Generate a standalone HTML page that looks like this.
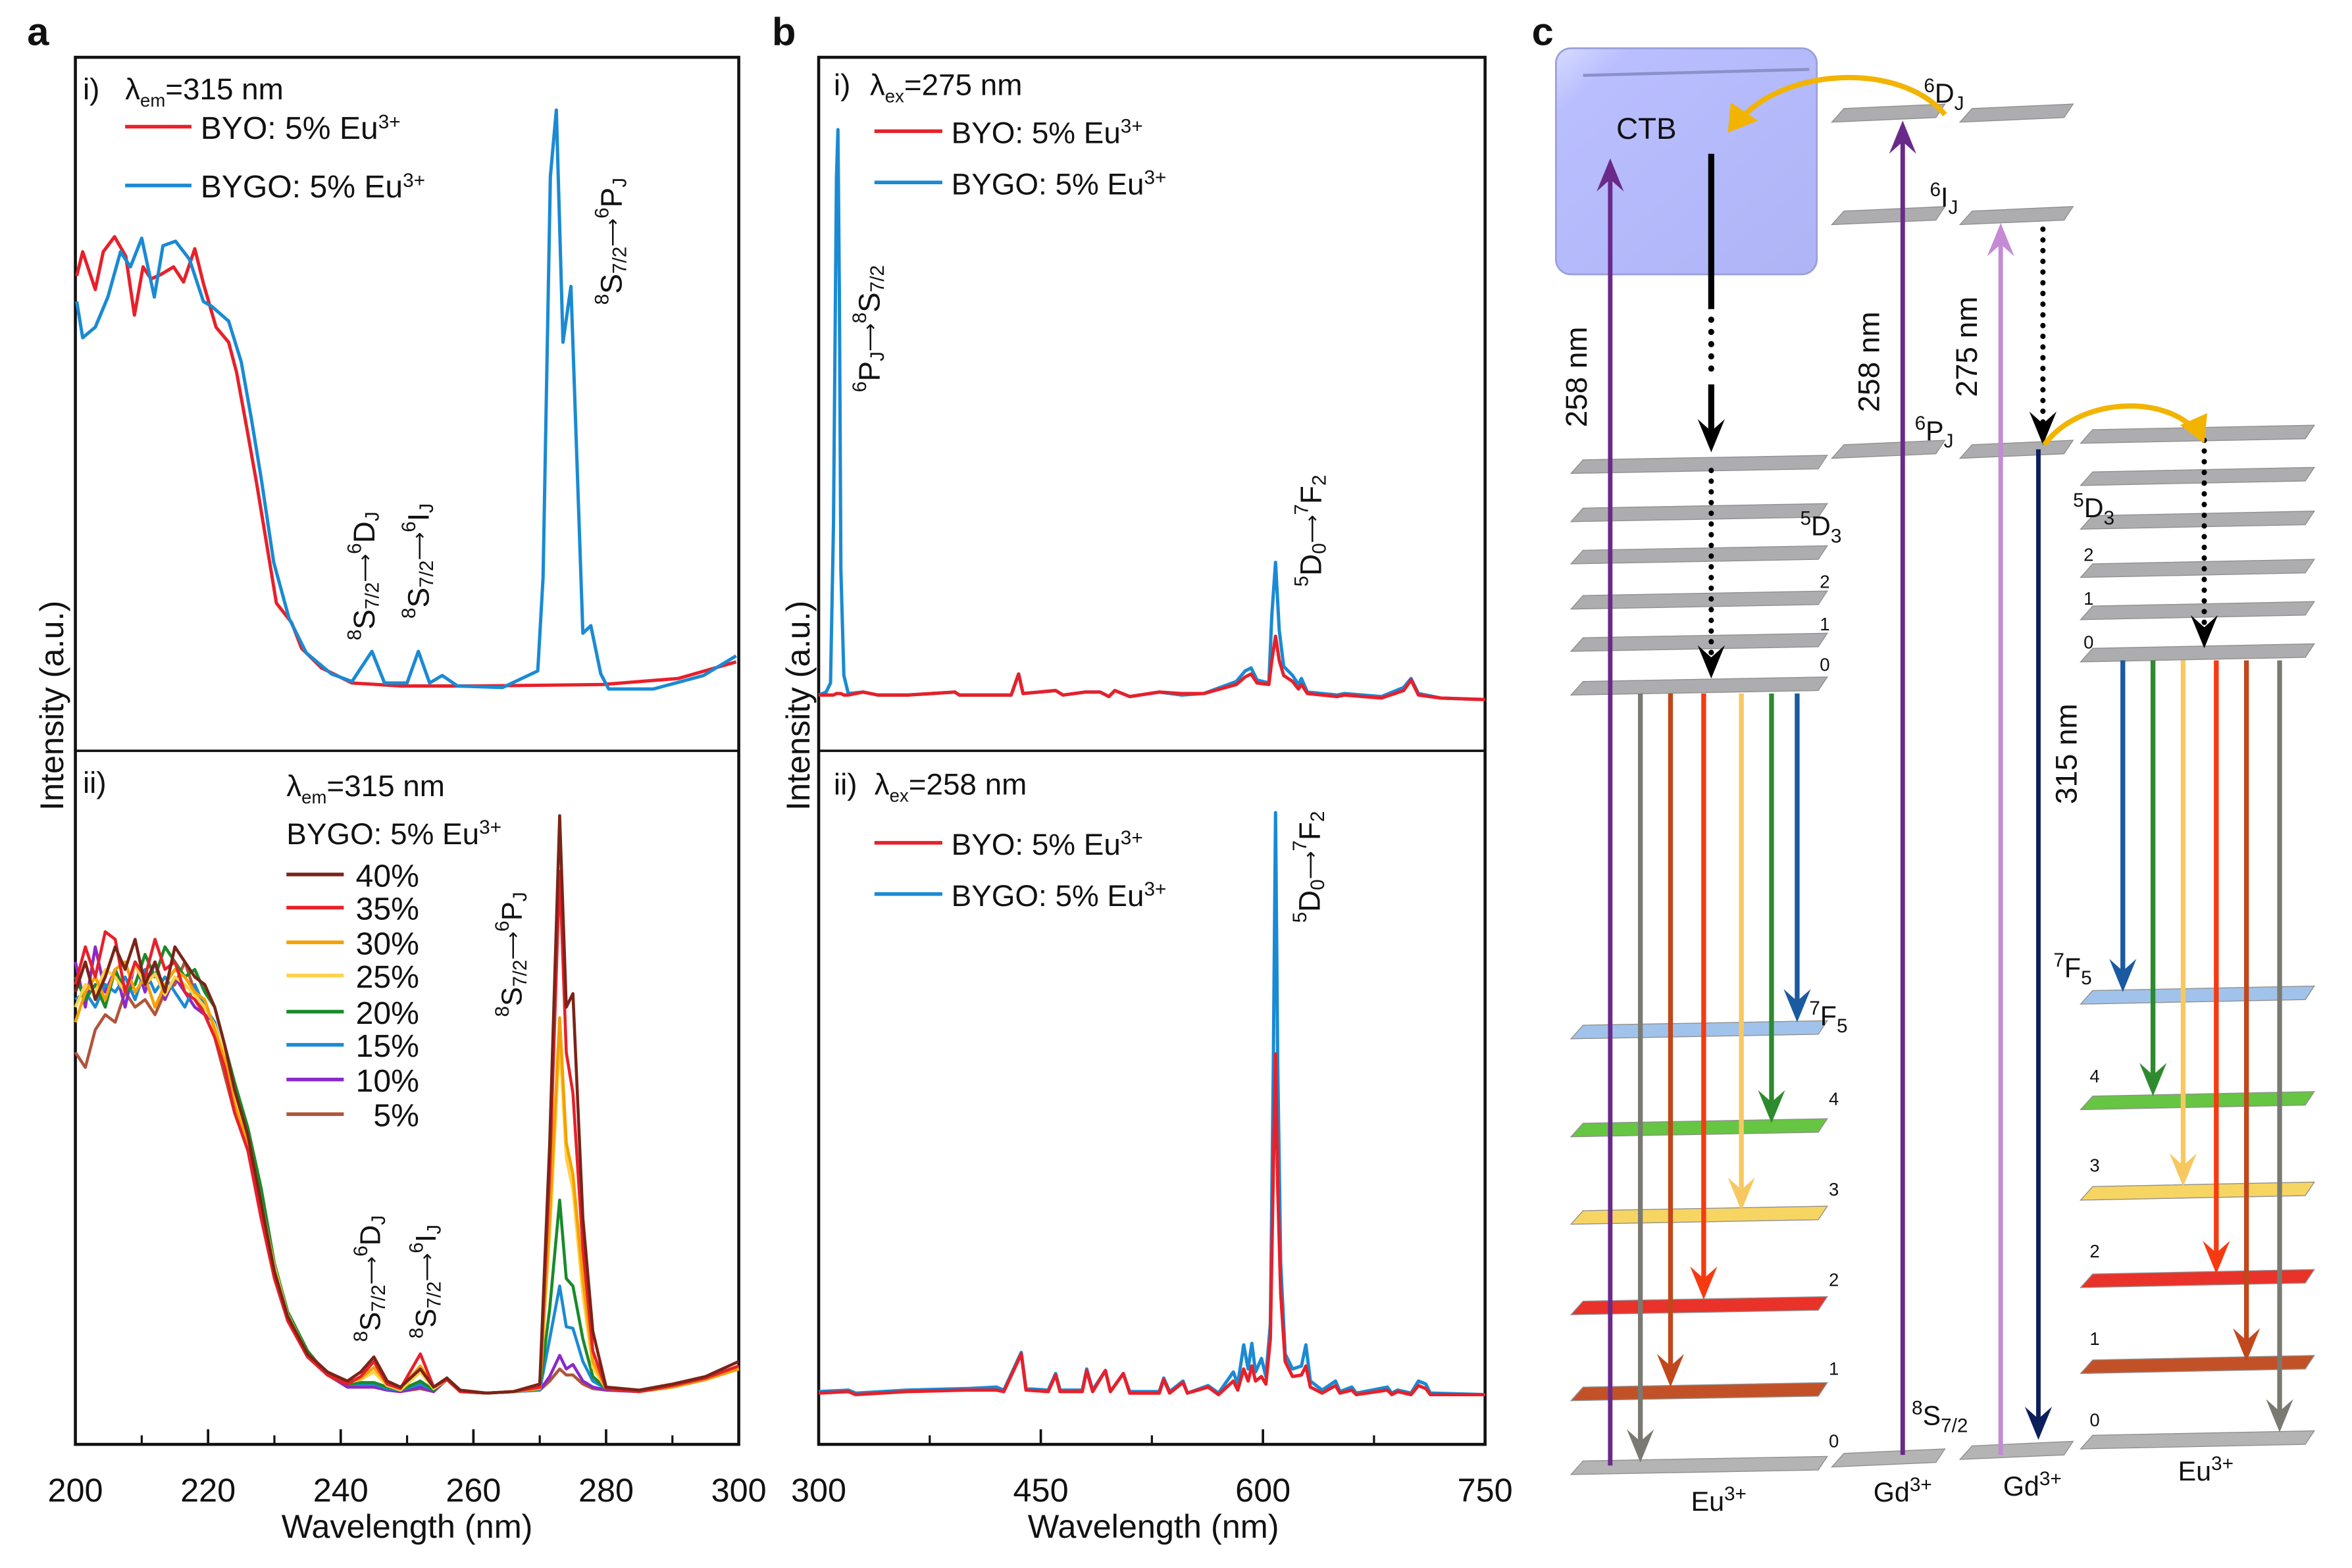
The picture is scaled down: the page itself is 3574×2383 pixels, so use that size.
<!DOCTYPE html>
<html><head><meta charset="utf-8"><style>
html,body{margin:0;padding:0;background:#fff;}
svg{display:block;font-family:"Liberation Sans",Arial,sans-serif;}
</style></head><body>
<svg id="fig" width="3574" height="2383" viewBox="0 0 1560 1040" preserveAspectRatio="none" xmlns="http://www.w3.org/2000/svg">
<g id="root"></g>
</svg>
<script>
// ---------- Panel a data ----------
const aiRedWl = [200.2,201.1,203,204.2,205.9,207.6,208.9,210.2,211.4,212.9,214.8,216.3,218,219.3,221.2,223.1,224.3,225.8,227.3,228.8,230.3,232.6,234.1,237.1,241.7,249.2,260.6,279.5,290.9,299.6];
const aiRedI  = [315,331,306,331,341,328,289,321,313,316,321,311,333,310,281,271,251,215,178,138,98,85,68,55,45,43,43,44,48,59];
const aiBlueWl = [200.2,201.1,203,204.9,206.8,208.3,210,211.9,213.2,215.1,217.2,219.3,220.5,223.1,225,226.5,228,229.9,232.2,234.8,238.6,241.7,244.7,246.6,250,251.7,253.4,255.3,257.6,264.4,269.7,270.5,271.6,272.5,273.5,274.7,276.5,277.7,279.2,280.4,287.1,294.7,299.6];
const aiBlueI  = [298,274,281,301,331,321,340,301,335,338,326,298,295,285,258,221,181,125,88,65,51,46,66,45,45,66,45,50,43,42,53,115,381,425,271,308,78,83,51,41,41,50,63];

const aiiWl = [200,201.5,203,204.5,206,207.5,209,210.5,212,213.5,215,216.5,218,219.5,221,222.5,224,226,228,230,232,235,238,241,243,245,247,249,252,254,256,258,262,266,270,271.5,273,274,275,276.5,278,280,285,290,295,300];
const aii40 = [300,320,295,310,330,315,335,305,320,300, 330,320,310,305,290,265,235,205,160,115, 85,60,48,42,48,58,42,38,50,38, 44,36,34,35,40,200,417,290,299,150, 75,38,36,40,45,55];
const aii35 = [305,330,310,340,335,300,320,310,335,315, 320,300,295,285,270,250,220,195,150,110, 82,58,46,40,45,55,40,37,60,38, 43,35,34,35,38,180,380,260,233,130, 62,37,35,39,44,52];
const aii30 = [280,300,310,295,315,320,300,310,290,305, 315,310,300,295,275,255,225,200,158,115, 84,60,48,41,44,51,40,37,52,38, 43,35,34,35,37,150,283,200,179,110, 55,37,35,38,43,50];
const aii25 = [290,305,300,315,310,300,318,305,312,298, 310,305,298,290,278,258,230,205,160,118, 86,60,48,41,43,48,39,36,48,37, 43,35,34,35,37,140,269,190,169,100, 51,37,35,38,43,50];
const aii20 = [310,295,305,290,315,300,305,325,310,330, 320,310,315,300,290,265,240,210,170,120, 88,62,46,40,41,41,38,36,42,36, 44,35,34,35,37,90,162,110,105,70, 45,37,35,38,43,51];
const aii15 = [295,300,290,305,300,310,295,315,300,310, 300,290,305,290,280,255,230,200,160,115, 84,60,47,40,40,40,37,36,40,36, 44,35,34,35,36,70,105,78,77,55, 42,37,35,38,43,51];
const aii10 = [320,290,330,300,315,290,320,300,320,295, 310,300,290,285,280,255,225,200,165,118, 86,61,47,38,38,38,36,35,38,35, 44,35,34,35,36,45,59,50,53,42, 38,36,35,38,43,52];
const aii05 = [260,250,275,285,280,300,290,295,285,300, 305,320,300,285,270,245,220,195,155,112, 82,58,46,38,38,38,36,35,37,35, 43,35,34,35,36,42,50,46,46,40, 37,36,35,38,43,50];
const aiiLabels = ["40%","35%","30%","25%","20%","15%","10%"," 5%"];
const aiiColors = ["#7a2418","#e8202a","#f5a000","#ffd24a","#1a8a2a","#1a8ad4","#8a2ac8","#b0553a"];
const aTicks = [200,220,240,260,280,300];
const aMinor = [210,230,250,270,290];

// ---------- Panel b data ----------
const biWl   = [300,305,308,310,312,313,314,315,317,320,330,340,360,392,395,430,435,438,460,465,480,490,496,500,510,530,545,560,582,588,592,596,604,606,608.5,611,614,620,624,626,630,650,655,680,695,700,705,720,750];
const biBlue = [37,39,45,150,380,412,300,120,50,38,39,37,37,39,37,37,51,38,40,37,39,39,36,40,36,39,37,38,46,53,55,47,45,90,125,80,56,50,44,48,39,37,38,36,42,48,38,35,34];
const biRed  = [37,37,37,37,38,38,38,38,37,37,39,37,37,39,37,37,51,38,40,37,39,39,36,40,36,39,38,38,44,49,51,45,44,60,76,60,50,46,41,44,38,36,37,35,40,47,37,35,34];
const biiWl   = [300,320,325,360,400,420,425,436.8,440,455,460,463,478,481,485,493.6,497,505.7,510,530,533,537,546,549,563,570,580,583,587,590,592.5,595,599,602,605,607,608.5,610,612,615,620,626,629,632,640,649,652,660,663,684,687,691,700,705,710,713,750];
const biiBlue = [35,36,34,36,37,38,36,61,37,36,47,36,36,50,36,49,35,47,35,35,44,35,42,34,39,34,48,40,66,50,67,48,57,45,80,250,419,250,120,60,50,52,66,42,36,42,35,38,34,38,34,36,34,42,40,34,33];
const biiRed  = [34,35,33,35,36,36,35,60,36,35,46,35,35,49,35,49,35,47,34,34,43,34,41,34,38,33,42,36,50,42,52,42,45,40,70,180,259,170,100,55,45,46,52,38,34,39,34,36,33,36,33,35,33,39,37,33,33];
const bTicks = [300,450,600,750];
const bMinor = [375,525,675];

// ---------- scales ----------
const Xa = w => 50 + (w-200)*4.4;
const Xb = w => 543 + (w-300)*442/450;
const Ytop = I => 498 - I;
const Ybot = I => 958 - I;

const NS = "http://www.w3.org/2000/svg";
const root = document.getElementById('root');
function mk(tag, attrs, parent){
  const e = document.createElementNS(NS, tag);
  for (const k in attrs) e.setAttribute(k, attrs[k]);
  (parent||root).appendChild(e);
  return e;
}
function line(xs, ys, X, Y, color, name, w){
  let d = "";
  for (let i=0;i<xs.length;i++) d += (i?"L":"M") + X(xs[i]).toFixed(2) + "," + Y(ys[i]).toFixed(2);
  const p = mk('path', {d:d, fill:'none', stroke:color, 'stroke-width':w||2.2, 'stroke-linejoin':'round'});
  
  
  return p;
}
function txt(x,y,html,size,name,extra){
  const t = mk('text', Object.assign({x:x,y:y,'font-size':size,fill:'#111'}, extra||{}));
  t.innerHTML = html;
  
  
  return t;
}
function frame(x1,x2,name){
  const r = mk('rect',{x:x1,y:38,width:x2-x1,height:920,fill:'none',stroke:'#111','stroke-width':2});
  
  
  const m = mk('line',{x1:x1,x2:x2,y1:498,y2:498,stroke:'#111','stroke-width':1.6});
  
  
}
function ticks(major, minor, X, name){
  major.forEach(v=>{
    const l = mk('line',{x1:X(v),x2:X(v),y1:958,y2:948,stroke:'#111','stroke-width':1.6});
    
    
    txt(X(v), 996, String(v), 22, name+'-tick-label', {'text-anchor':'middle'});
  });
  minor.forEach(v=>{
    const l = mk('line',{x1:X(v),x2:X(v),y1:958,y2:952,stroke:'#111','stroke-width':1.4});
    
    
  });
}
function legLine(x1,x2,y,color,name){
  const l = mk('line',{x1:x1,x2:x2,y1:y,y2:y,stroke:color,'stroke-width':2.4});
  
  
}
const SUP = (s)=>`<tspan baseline-shift="7" font-size="13">${s}</tspan>`;
const SUB = (s)=>`<tspan baseline-shift="-5" font-size="13">${s}</tspan>`;
function rot(cx,cy,html,size,name){
  txt(cx,cy,html,size,name,{'text-anchor':'middle',transform:`rotate(-90 ${cx} ${cy})`,'dominant-baseline':'middle'});
}
const AR = `<tspan font-size="13">⟶</tspan>`;
const sToD = `${SUP('8')}S${SUB('7/2')}${AR}${SUP('6')}D${SUB('J')}`;
const sToI = `${SUP('8')}S${SUB('7/2')}${AR}${SUP('6')}I${SUB('J')}`;
const sToP = `${SUP('8')}S${SUB('7/2')}${AR}${SUP('6')}P${SUB('J')}`;
const pToS = `${SUP('6')}P${SUB('J')}${AR}${SUP('8')}S${SUB('7/2')}`;
const dToF = `${SUP('5')}D${SUB('0')}${AR}${SUP('7')}F${SUB('2')}`;
const eu = `Eu${SUP('3+')}`;
const lam = (s,rest)=>`λ<tspan baseline-shift="-5" font-size="12">${s}</tspan>${rest}`;

// ---------- Panel a ----------
txt(18,30,'a',26,'panel-a-label',{'font-weight':'bold'});
frame(50,490,'panel-a-frame');
ticks(aTicks,aMinor,Xa,'panel-a-x');
txt(270,1020,'Wavelength (nm)',22,'panel-a-x-title',{'text-anchor':'middle'});
txt(36,468,'Intensity (a.u.)',22,'panel-a-y-title',{'text-anchor':'middle',transform:'rotate(-90 36 468)','dominant-baseline':'middle'});
line(aiRedWl, aiRedI, Xa, Ytop, '#e8202a', 'a-i-byo-line');
line(aiBlueWl, aiBlueI, Xa, Ytop, '#1a8ad4', 'a-i-bygo-line');
txt(55,66,'i)',20,'a-i-label');
txt(83,66,lam('em','=315 nm'),20,'a-i-lambda');
legLine(83,127,84,'#e8202a','a-i-legend-byo-swatch');
txt(133,92,`BYO: 5% ${eu}`,21,'a-i-legend-byo');
legLine(83,127,123,'#1a8ad4','a-i-legend-bygo-swatch');
txt(133,131,`BYGO: 5% ${eu}`,21,'a-i-legend-bygo');
rot(243,382,sToD,20,'a-i-annotation-6dj');
rot(279,372,sToI,20,'a-i-annotation-6ij');
rot(407,160,sToP,20,'a-i-annotation-6pj');

const aiiSeries = [aii40,aii35,aii30,aii25,aii20,aii15,aii10,aii05];
for (let k=aiiSeries.length-1;k>=0;k--){
  line(aiiWl, aiiSeries[k], Xa, Ybot, aiiColors[k], 'a-ii-line-'+aiiLabels[k].trim().replace('%','pct'), 2);
}
txt(55,526,'ii)',20,'a-ii-label');
txt(190,528,lam('em','=315 nm'),20,'a-ii-lambda');
txt(190,560,`BYGO: 5% ${eu}`,20,'a-ii-title');
const legY = [580,602,625,647,671,693,716,739];
aiiLabels.forEach((lab,i)=>{
  legLine(190,228,legY[i],aiiColors[i],'a-ii-legend-swatch');
  txt(278,legY[i]+8,lab,21,'a-ii-legend-entry',{'text-anchor':'end','xml:space':'preserve'});
});
rot(247,848,sToD,19,'a-ii-annotation-6dj');
rot(284,850,sToI,19,'a-ii-annotation-6ij');
rot(341,633,sToP,19,'a-ii-annotation-6pj');

// ---------- Panel b ----------
txt(512,30,'b',26,'panel-b-label',{'font-weight':'bold'});
frame(543,985,'panel-b-frame');
ticks(bTicks,bMinor,Xb,'panel-b-x');
txt(765,1020,'Wavelength (nm)',22,'panel-b-x-title',{'text-anchor':'middle'});
txt(531,468,'Intensity (a.u.)',22,'panel-b-y-title',{'text-anchor':'middle',transform:'rotate(-90 531 468)','dominant-baseline':'middle'});
line(biWl, biBlue, Xb, Ytop, '#1a8ad4', 'b-i-bygo-line');
line(biWl, biRed, Xb, Ytop, '#e8202a', 'b-i-byo-line');
line(biiWl, biiBlue, Xb, Ybot, '#1a8ad4', 'b-ii-bygo-line');
line(biiWl, biiRed, Xb, Ybot, '#e8202a', 'b-ii-byo-line');
txt(553,63,'i)',20,'b-i-label');
txt(577,63,lam('ex','=275 nm'),20,'b-i-lambda');
legLine(580,625,87,'#e8202a','b-i-legend-byo-swatch');
txt(631,95,`BYO: 5% ${eu}`,20,'b-i-legend-byo');
legLine(580,625,121,'#1a8ad4','b-i-legend-bygo-swatch');
txt(631,129,`BYGO: 5% ${eu}`,20,'b-i-legend-bygo');
rot(578,218,pToS,20,'b-i-annotation-6pj');
rot(871,352,dToF,20,'b-i-annotation-5d0');
txt(553,527,'ii)',20,'b-ii-label');
txt(580,527,lam('ex','=258 nm'),20,'b-ii-lambda');
legLine(580,625,559,'#e8202a','b-ii-legend-byo-swatch');
txt(631,567,`BYO: 5% ${eu}`,20,'b-ii-legend-byo');
legLine(580,625,593,'#1a8ad4','b-ii-legend-bygo-swatch');
txt(631,601,`BYGO: 5% ${eu}`,20,'b-ii-legend-bygo');
rot(870,575,dToF,20,'b-ii-annotation-5d0');

// ---------- Panel c (energy-level diagram) ----------
txt(1016,30,'c',26,'panel-c-label',{'font-weight':'bold'});
const defs = mk('defs',{});
defs.innerHTML = '<linearGradient id="ctbg" x1="0" y1="0" x2="1" y2="1"><stop offset="0" stop-color="#d6dbff"/><stop offset="0.15" stop-color="#b9beff"/><stop offset="1" stop-color="#aeb4f5"/></linearGradient>';
const ctb = mk('rect',{x:1032,y:32,width:173,height:150,rx:10,fill:'url(#ctbg)',stroke:'#9aa0d8','stroke-width':1.2});


const ctbTop = mk('line',{x1:1050,y1:50,x2:1200,y2:46,stroke:'#8a90c8','stroke-width':2});


txt(1072,92,'CTB',20,'ctb-label');

function slab(x1,x2,y,fill,name){
  const p = mk('polygon',{points:`${x1+8},${y-3} ${x2},${y-6} ${x2-6},${y+3} ${x1},${y+6}`,fill:fill,stroke:'#8a8a8a','stroke-width':0.6,opacity:0.95});
  
  
}
const euLeftY = [308,340,368,398,426,455];
const euRightY = [288,316,345,377,405,433];
euLeftY.forEach(y=>slab(1042,1212,y,'#a9a9ab','eu-left-5d-level'));
euRightY.forEach(y=>slab(1380,1535,y,'#a9a9ab','eu-right-5d-level'));
const fCols = ['#9cc0ea','#5ec238','#f7d35a','#e8281e','#c0481c','#b0b0b2'];
const fLeftY = [683,748,806,866,923,972];
const fRightY = [660,730,790,848,905,955];
fLeftY.forEach((y,i)=>slab(1042,1212,y,fCols[i],'eu-left-7f-level'));
fRightY.forEach((y,i)=>slab(1380,1535,y,fCols[i],'eu-right-7f-level'));
[75,143,298].forEach(y=>{slab(1215,1290,y,'#a9a9ab','gd-level');slab(1300,1375,y,'#a9a9ab','gd-level');});
slab(1215,1290,967,'#b0b0b2','gd-ground-level');slab(1300,1375,962,'#b0b0b2','gd-ground-level');

function arrow(x,y1,y2,color,w,name,dotted){
  const dir = y2>y1?1:-1;
  const l = mk('line',{x1:x,y1:y1,x2:x,y2:y2-dir*8,stroke:color,'stroke-width':w,'stroke-dasharray':dotted?'0.1 7':'none','stroke-linecap':dotted?'round':'butt'});
  
  
  const h = mk('path',{d:`M${x-9},${y2-dir*22} L${x},${y2} L${x+9},${y2-dir*22} L${x},${y2-dir*14} Z`,fill:color});
  
  
}
arrow(1068,972,105,'#6a2a8a',3,'excitation-258-eu');
arrow(1262,965,80,'#6a2a8a',3,'excitation-258-gd');
arrow(1327,965,148,'#c48ad4',3,'excitation-275-gd');
arrow(1352,298,955,'#0c1f5c',3,'emission-315-gd');
const bl = mk('line',{x1:1135,y1:102,x2:1135,y2:205,stroke:'#000','stroke-width':4});


mk('line',{x1:1135,y1:212,x2:1135,y2:250,stroke:'#000','stroke-width':4,'stroke-dasharray':'0.1 8','stroke-linecap':'round'});
arrow(1135,255,300,'#000',4,'ctb-relaxation-arrow');
arrow(1135,312,450,'#000',3.5,'eu-left-relaxation',true);
arrow(1355,152,295,'#000',3.5,'gd-relaxation',true);
arrow(1462,292,430,'#000',3.5,'eu-right-relaxation',true);
const y1 = mk('path',{d:'M1290,76 C1260,40 1180,45 1152,82',fill:'none',stroke:'#f2b400','stroke-width':3.5});


mk('path',{d:'M1146,88 L1148,68 L1166,80 Z',fill:'#f2b400'});
const y2 = mk('path',{d:'M1356,295 C1380,262 1440,262 1458,288',fill:'none',stroke:'#f2b400','stroke-width':3.5});


mk('path',{d:'M1462,294 L1446,282 L1464,274 Z',fill:'#f2b400'});
const emitCols = ['#7a7a72','#c0481c','#f53a12','#f8c860','#2e8a2e','#1a5aa0'];
const leftX = [1088,1108,1130,1155,1175,1192];
const leftEnd = [970,920,862,803,745,678];
leftX.forEach((x,i)=>arrow(x,460,leftEnd[i],emitCols[i],3.2,'eu-left-emission'));
const rightX = [1512,1490,1470,1448,1428,1408];
const rightEnd = [950,903,845,787,727,658];
rightX.forEach((x,i)=>arrow(x,438,rightEnd[i],emitCols[i],3.2,'eu-right-emission'));

rot(1047,250,'258 nm',20,'label-258-eu');
rot(1241,240,'258 nm',20,'label-258-gd');
rot(1306,230,'275 nm',20,'label-275-gd');
rot(1372,500,'315 nm',20,'label-315');
txt(1276,68,`${SUP('6')}D${SUB('J')}`,18,'label-6dj');
txt(1280,137,`${SUP('6')}I${SUB('J')}`,18,'label-6ij');
txt(1270,292,`${SUP('6')}P${SUB('J')}`,18,'label-6pj');
txt(1194,355,`${SUP('5')}D${SUB('3')}`,18,'label-5d3-left');
txt(1375,343,`${SUP('5')}D${SUB('3')}`,18,'label-5d3-right');
[['2',1207,390],['1',1207,418],['0',1207,445]].forEach(a=>txt(a[1],a[2],a[0],12,'label-level-num'));
[['2',1382,372],['1',1382,401],['0',1382,430]].forEach(a=>txt(a[1],a[2],a[0],12,'label-level-num'));
txt(1200,680,`${SUP('7')}F${SUB('5')}`,18,'label-7f5-left');
txt(1362,648,`${SUP('7')}F${SUB('5')}`,18,'label-7f5-right');
[['4',1213,733],['3',1213,793],['2',1213,853],['1',1213,912],['0',1213,960]].forEach(a=>txt(a[1],a[2],a[0],12,'label-level-num'));
[['4',1386,718],['3',1386,777],['2',1386,834],['1',1386,892],['0',1386,946]].forEach(a=>txt(a[1],a[2],a[0],12,'label-level-num'));
txt(1268,945,`${SUP('8')}S${SUB('7/2')}`,18,'label-8s72');
txt(1140,1002,eu,18,'label-eu-left',{'text-anchor':'middle'});
txt(1262,996,`Gd${SUP('3+')}`,18,'label-gd-1',{'text-anchor':'middle'});
txt(1348,992,`Gd${SUP('3+')}`,18,'label-gd-2',{'text-anchor':'middle'});
txt(1463,982,eu,18,'label-eu-right',{'text-anchor':'middle'});
</script>
</body></html>
